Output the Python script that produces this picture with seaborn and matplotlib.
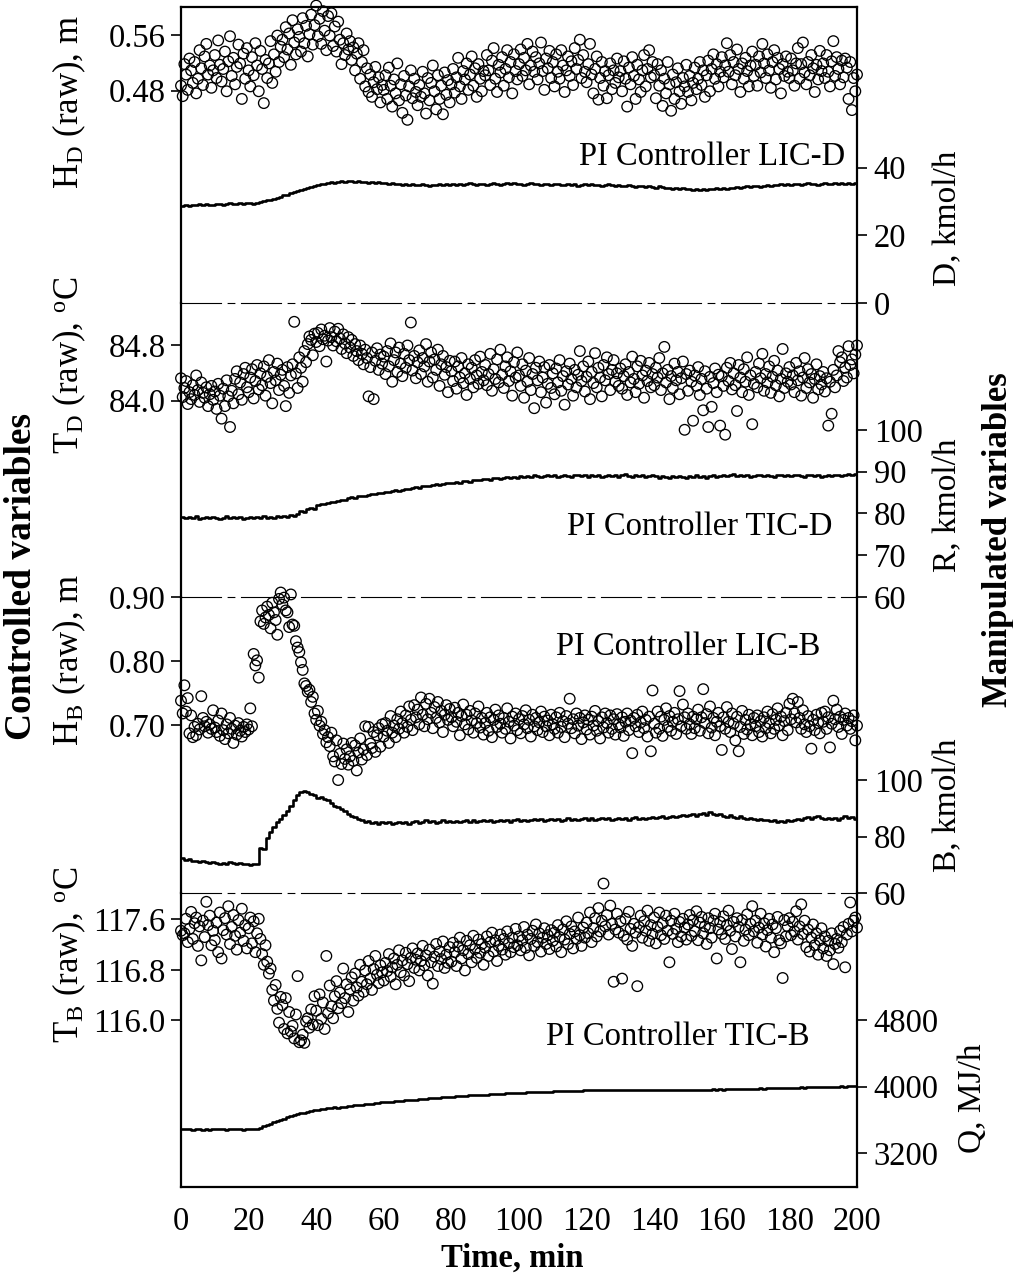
import numpy as np
import matplotlib
matplotlib.use("Agg")
import matplotlib.pyplot as plt
import seaborn as sns

# ---------------- data ----------------
# Controlled variables: sampled every 0.5 min, 0..200 min
HD_raw = [
    0.487, 0.472, 0.518, 0.503, 0.481, 0.526, 0.509, 0.491, 0.521, 0.476, 0.497, 0.538, 0.512, 0.488, 0.529, 0.547, 0.503, 0.516, 0.484, 0.509,
    0.531, 0.498, 0.552, 0.517, 0.493, 0.511, 0.536, 0.479, 0.522, 0.558, 0.501, 0.527, 0.489, 0.514, 0.546, 0.519, 0.468, 0.533, 0.497, 0.541,
    0.509, 0.486, 0.528, 0.502, 0.548, 0.516, 0.479, 0.537, 0.511, 0.462, 0.524, 0.498, 0.519, 0.551, 0.491, 0.532, 0.507, 0.559, 0.521, 0.543,
    0.553, 0.528, 0.571, 0.539, 0.562, 0.517, 0.581, 0.549, 0.532, 0.568, 0.557, 0.536, 0.584, 0.548, 0.573, 0.529, 0.561, 0.589, 0.546, 0.574,
    0.602, 0.558, 0.583, 0.547, 0.594, 0.566, 0.538, 0.587, 0.559, 0.591, 0.544, 0.572, 0.536, 0.579, 0.553, 0.518, 0.548, 0.531, 0.562, 0.539,
    0.551, 0.524, 0.542, 0.509, 0.533, 0.548, 0.497, 0.521, 0.538, 0.486, 0.512, 0.478, 0.503, 0.471, 0.492, 0.514, 0.482, 0.499, 0.463, 0.488,
    0.481, 0.502, 0.468, 0.513, 0.487, 0.457, 0.496, 0.476, 0.519, 0.466, 0.489, 0.448, 0.501, 0.473, 0.438, 0.486, 0.509, 0.469, 0.497, 0.478,
    0.459, 0.488, 0.471, 0.507, 0.476, 0.447, 0.498, 0.466, 0.491, 0.516, 0.479, 0.453, 0.502, 0.468, 0.487, 0.446, 0.506, 0.474, 0.495, 0.463,
    0.489, 0.511, 0.477, 0.499, 0.527, 0.486, 0.468, 0.508, 0.496, 0.519, 0.481, 0.503, 0.529, 0.487, 0.512, 0.471, 0.518, 0.497, 0.479, 0.508,
    0.502, 0.531, 0.509, 0.488, 0.523, 0.541, 0.497, 0.478, 0.517, 0.506, 0.528, 0.487, 0.511, 0.538, 0.499, 0.521, 0.476, 0.532, 0.508, 0.496,
    0.518, 0.539, 0.501, 0.527, 0.509, 0.547, 0.489, 0.516, 0.536, 0.507, 0.528, 0.496, 0.519, 0.549, 0.508, 0.481, 0.526, 0.512, 0.537, 0.498,
    0.521, 0.486, 0.532, 0.507, 0.497, 0.538, 0.516, 0.478, 0.509, 0.529, 0.501, 0.522, 0.488, 0.541, 0.511, 0.524, 0.553, 0.498, 0.531, 0.507,
    0.492, 0.518, 0.547, 0.503, 0.476, 0.511, 0.529, 0.467, 0.498, 0.521, 0.487, 0.508, 0.469, 0.502, 0.519, 0.482, 0.509, 0.491, 0.526, 0.499,
    0.508, 0.479, 0.522, 0.497, 0.457, 0.513, 0.489, 0.528, 0.501, 0.468, 0.517, 0.496, 0.478, 0.509, 0.531, 0.486, 0.511, 0.538, 0.499, 0.521,
    0.502, 0.469, 0.518, 0.487, 0.509, 0.458, 0.497, 0.476, 0.521, 0.489, 0.451, 0.503, 0.468, 0.492, 0.512, 0.479, 0.461, 0.498, 0.486, 0.517,
    0.478, 0.501, 0.466, 0.491, 0.513, 0.482, 0.497, 0.521, 0.488, 0.509, 0.471, 0.502, 0.523, 0.479, 0.511, 0.532, 0.497, 0.518, 0.486, 0.507,
    0.528, 0.499, 0.516, 0.548, 0.507, 0.531, 0.489, 0.521, 0.502, 0.539, 0.511, 0.478, 0.519, 0.497, 0.527, 0.508, 0.486, 0.516, 0.536, 0.501,
    0.517, 0.487, 0.529, 0.506, 0.547, 0.519, 0.498, 0.532, 0.509, 0.484, 0.521, 0.538, 0.496, 0.527, 0.511, 0.476, 0.518, 0.501, 0.529, 0.507,
    0.498, 0.526, 0.509, 0.487, 0.519, 0.541, 0.497, 0.518, 0.549, 0.506, 0.489, 0.521, 0.502, 0.531, 0.512, 0.478, 0.517, 0.496, 0.537, 0.508,
    0.519, 0.498, 0.531, 0.507, 0.486, 0.522, 0.551, 0.501, 0.528, 0.511, 0.489, 0.523, 0.499, 0.526, 0.513, 0.468, 0.521, 0.452, 0.498, 0.479,
    0.503,
]

TD_raw = [
    84.32, 84.05, 84.18, 84.28, 83.95, 84.12, 84.02, 84.22, 84.08, 84.36, 84.15, 83.98, 84.26, 84.11, 84.04, 84.19, 83.92, 84.09, 84.21, 84.01,
    84.13, 83.88, 84.24, 84.07, 83.74, 84.17, 83.92, 84.29, 84.06, 83.62, 84.14, 83.96, 84.31, 84.42, 84.09, 84.26, 84.01, 84.38, 84.47, 84.19,
    84.12, 84.33, 84.45, 84.03, 84.28, 84.51, 84.16, 84.39, 84.22, 84.49, 84.07, 84.34, 84.58, 84.25, 83.96, 84.41, 84.29, 84.53, 84.15, 84.37,
    84.44, 84.21, 83.92, 84.48, 84.11, 84.36, 84.52, 85.13, 84.39, 84.18, 84.62, 84.47, 84.27, 84.71, 84.55, 84.81, 84.92, 84.87, 84.65, 84.96,
    84.84, 84.97, 84.78, 85.02, 84.88, 84.93, 84.56, 84.86, 85.04, 84.91, 84.79, 84.99, 84.85, 85.03, 84.89, 84.74, 84.95, 84.82, 84.68, 84.91,
    84.76, 84.87, 84.64, 84.81, 84.71, 84.58, 84.79, 84.67, 84.52, 84.73, 84.61, 84.06, 84.48, 84.69, 84.02, 84.57, 84.75, 84.44, 84.66, 84.53,
    84.63, 84.38, 84.71, 84.49, 84.82, 84.27, 84.58, 84.69, 84.41, 84.76, 84.53, 84.35, 84.67, 84.47, 84.79, 84.58, 85.12, 84.43, 84.64, 84.32,
    84.55, 84.72, 84.38, 84.61, 84.49, 84.81, 84.27, 84.56, 84.69, 84.33, 84.59, 84.44, 84.73, 84.21, 84.52, 84.64, 84.37, 84.48, 84.12, 84.57,
    84.42, 84.28, 84.56, 84.17, 84.49, 84.33, 84.61, 84.25, 84.39, 84.08, 84.52, 84.31, 84.47, 84.19, 84.58, 84.36, 84.24, 84.63, 84.41, 84.29,
    84.51, 84.22, 84.38, 84.67, 84.14, 84.45, 84.31, 84.59, 84.26, 84.73, 84.37, 84.18, 84.49, 84.62, 84.28, 84.42, 84.07, 84.55, 84.33, 84.69,
    84.36, 84.21, 84.52, 84.04, 84.43, 84.27, 84.61, 84.15, 84.38, 83.89, 84.47, 84.29, 84.56, 84.12, 84.33, 84.48, 83.97, 84.24, 84.51, 84.18,
    84.39, 84.09, 84.46, 84.26, 84.58, 84.14, 84.35, 83.94, 84.42, 84.23, 84.53, 84.31, 84.07, 84.44, 84.19, 84.37, 84.71, 84.28, 84.49, 84.13,
    84.34, 84.56, 84.02, 84.41, 84.25, 84.68, 84.19, 84.47, 84.33, 84.06, 84.51, 84.29, 84.62, 84.38, 84.15, 84.44, 84.58, 84.27, 84.39, 84.21,
    84.46, 84.17, 84.35, 84.52, 84.08, 84.41, 84.26, 84.63, 84.31, 84.12, 84.49, 84.24, 84.57, 84.36, 84.04, 84.43, 84.28, 84.54, 84.19, 84.38,
    84.22, 84.47, 84.33, 84.61, 84.15, 84.39, 84.77, 84.26, 84.44, 84.02, 84.35, 84.18, 84.53, 84.29, 84.41, 84.09, 84.32, 84.56, 83.58, 84.38,
    84.14, 84.43, 84.27, 83.71, 84.36, 84.21, 84.48, 84.08, 84.31, 83.86, 84.42, 84.17, 83.62, 84.34, 83.91, 84.25, 84.46, 84.12, 84.37, 83.64,
    84.35, 84.21, 83.51, 84.47, 84.28, 84.54, 84.16, 84.39, 84.22, 83.85, 84.51, 84.33, 84.12, 84.45, 84.27, 84.62, 84.08, 84.36, 83.66, 84.24,
    84.41, 84.19, 84.53, 84.32, 84.67, 84.14, 84.38, 84.26, 84.49, 84.11, 84.34, 84.57, 84.22, 84.43, 84.06, 84.31, 84.74, 84.18, 84.39, 84.27,
    84.48, 84.23, 84.36, 84.12, 84.54, 84.29, 84.42, 84.07, 84.33, 84.61, 84.18, 84.45, 84.26, 84.38, 84.04, 84.31, 84.52, 84.16, 84.35, 84.23,
    84.41, 84.13, 84.32, 83.64, 84.27, 83.81, 84.44, 84.19, 84.36, 84.71, 84.55, 84.62, 84.28, 84.47, 84.33, 84.78, 84.51, 84.59, 84.39, 84.66,
    84.79,
]

HB_raw = [
    0.738, 0.718, 0.762, 0.721, 0.742, 0.687, 0.715, 0.681, 0.697, 0.684, 0.702, 0.693, 0.745, 0.711, 0.698, 0.705, 0.688, 0.701, 0.694, 0.723,
    0.696, 0.689, 0.707, 0.683, 0.718, 0.692, 0.678, 0.701, 0.687, 0.711, 0.694, 0.672, 0.699, 0.685, 0.703, 0.691, 0.682, 0.697, 0.689, 0.701,
    0.693, 0.726, 0.698, 0.811, 0.793, 0.801, 0.774, 0.862, 0.879, 0.858, 0.868, 0.885, 0.872, 0.851, 0.891, 0.876, 0.864, 0.841, 0.897, 0.907,
    0.888, 0.899, 0.879, 0.876, 0.853, 0.904, 0.857, 0.855, 0.831, 0.821, 0.814, 0.798, 0.786, 0.765, 0.761, 0.752, 0.755, 0.736, 0.744, 0.718,
    0.708, 0.722, 0.699, 0.705, 0.686, 0.692, 0.673, 0.681, 0.667, 0.688, 0.651, 0.643, 0.676, 0.614, 0.655, 0.639, 0.671, 0.647, 0.662, 0.638,
    0.651, 0.672, 0.644, 0.668, 0.629, 0.657, 0.679, 0.646, 0.662, 0.698, 0.653, 0.697, 0.671, 0.664, 0.689, 0.658, 0.684, 0.695, 0.666, 0.701,
    0.682, 0.703, 0.691, 0.672, 0.714, 0.688, 0.699, 0.681, 0.709, 0.694, 0.721, 0.703, 0.688, 0.715, 0.697, 0.729, 0.708, 0.692, 0.731, 0.712,
    0.724, 0.701, 0.743, 0.716, 0.698, 0.733, 0.709, 0.741, 0.719, 0.695, 0.728, 0.711, 0.736, 0.704, 0.722, 0.689, 0.716, 0.731, 0.708, 0.725,
    0.712, 0.698, 0.727, 0.705, 0.719, 0.684, 0.714, 0.732, 0.701, 0.716, 0.693, 0.722, 0.707, 0.688, 0.718, 0.703, 0.729, 0.696, 0.711, 0.685,
    0.703, 0.719, 0.691, 0.712, 0.681, 0.708, 0.724, 0.697, 0.715, 0.702, 0.688, 0.711, 0.694, 0.726, 0.705, 0.679, 0.713, 0.699, 0.718, 0.692,
    0.709, 0.687, 0.714, 0.701, 0.723, 0.695, 0.708, 0.682, 0.716, 0.698, 0.711, 0.692, 0.704, 0.721, 0.689, 0.713, 0.698, 0.707, 0.684, 0.716,
    0.701, 0.694, 0.712, 0.688, 0.719, 0.697, 0.706, 0.681, 0.714, 0.702, 0.741, 0.695, 0.709, 0.687, 0.718, 0.699, 0.711, 0.678, 0.704, 0.715,
    0.693, 0.708, 0.685, 0.713, 0.699, 0.722, 0.691, 0.706, 0.679, 0.712, 0.696, 0.718, 0.703, 0.688, 0.715, 0.694, 0.709, 0.685, 0.717, 0.701,
    0.696, 0.712, 0.683, 0.705, 0.718, 0.692, 0.707, 0.656, 0.711, 0.698, 0.716, 0.689, 0.704, 0.721, 0.695, 0.708, 0.682, 0.713, 0.659, 0.754,
    0.702, 0.688, 0.721, 0.694, 0.713, 0.683, 0.708, 0.726, 0.697, 0.714, 0.691, 0.705, 0.719, 0.686, 0.709, 0.753, 0.698, 0.732, 0.712, 0.694,
    0.718, 0.701, 0.686, 0.713, 0.695, 0.709, 0.724, 0.691, 0.712, 0.756, 0.703, 0.717, 0.687, 0.729, 0.696, 0.711, 0.684, 0.705, 0.719, 0.698,
    0.661, 0.712, 0.694, 0.728, 0.705, 0.689, 0.718, 0.702, 0.676, 0.713, 0.659, 0.697, 0.722, 0.686, 0.708, 0.693, 0.716, 0.701, 0.684, 0.711,
    0.698, 0.715, 0.689, 0.706, 0.682, 0.712, 0.695, 0.721, 0.703, 0.687, 0.717, 0.694, 0.708, 0.726, 0.699, 0.713, 0.684, 0.706, 0.719, 0.692,
    0.733, 0.709, 0.741, 0.718, 0.704, 0.736, 0.711, 0.694, 0.723, 0.701, 0.689, 0.714, 0.698, 0.663, 0.708, 0.692, 0.716, 0.703, 0.687, 0.719,
    0.705, 0.721, 0.694, 0.712, 0.665, 0.702, 0.738, 0.709, 0.724, 0.697, 0.713, 0.686, 0.708, 0.718, 0.699, 0.711, 0.694, 0.706, 0.715, 0.676,
    0.699,
]

TB_raw = [
    117.42, 117.35, 117.38, 117.61, 117.24, 117.45, 117.72, 117.29, 117.54, 117.63, 117.18, 117.49, 116.95, 117.58, 117.32, 117.88, 117.51, 117.66, 117.19, 117.42,
    117.27, 117.55, 117.08, 117.71, 116.98, 117.43, 117.62, 117.36, 117.81, 117.21, 117.48, 117.67, 117.34, 117.12, 117.59, 117.39, 117.77, 117.26, 117.51, 117.14,
    117.46, 117.63, 117.22, 117.57, 117.08, 117.38, 117.61, 117.29, 117.05, 116.88, 117.19, 116.93, 116.74, 116.82, 116.48, 116.31, 116.56, 116.18, 115.96, 116.37,
    116.24, 115.86, 116.35, 115.79, 116.13, 115.82, 115.91, 115.71, 116.09, 116.70, 115.65, 115.68, 115.77, 115.64, 115.98, 116.03, 115.88, 116.17, 115.93, 116.38,
    116.15, 115.92, 116.41, 116.02, 116.28, 115.86, 117.02, 116.11, 116.55, 116.22, 116.03, 116.38, 116.62, 116.19, 116.44, 116.27, 116.82, 116.35, 116.57, 116.13,
    116.49, 116.68, 116.31, 116.74, 116.52, 116.39, 116.88, 116.61, 116.45, 116.79, 116.57, 116.94, 116.66, 116.48, 116.81, 117.02, 116.72, 116.59, 116.87, 116.76,
    116.63, 116.91, 116.78, 117.05, 116.69, 116.84, 116.98, 116.57, 116.88, 117.11, 116.76, 116.95, 116.71, 117.07, 116.89, 116.62, 116.99, 117.14, 116.83, 116.96,
    117.06, 116.79, 116.94, 117.18, 116.87, 117.03, 116.71, 117.12, 116.92, 116.58, 117.01, 117.21, 116.86, 117.09, 116.97, 117.25, 116.83, 117.04, 116.91, 117.16,
    116.93, 117.23, 117.08, 116.86, 117.17, 117.31, 116.98, 117.11, 116.79, 117.26, 117.05, 117.19, 116.92, 117.34, 117.13, 116.99, 117.28, 117.07, 117.21, 116.88,
    117.15, 117.33, 117.02, 117.24, 117.39, 117.09, 117.27, 116.94, 117.18, 117.36, 117.12, 117.29, 117.04, 117.41, 117.22, 117.08, 117.31, 117.16, 117.45, 117.19,
    117.33, 117.11, 117.27, 117.48, 117.15, 117.36, 117.03, 117.29, 117.42, 117.18, 117.52, 117.24, 117.38, 117.09, 117.31, 117.46, 117.21, 117.35, 117.13, 117.43,
    117.26, 117.39, 117.17, 117.51, 117.32, 117.08, 117.44, 117.28, 117.57, 117.21, 117.37, 117.49, 117.14, 117.41, 117.29, 117.63, 117.35, 117.18, 117.47, 117.31,
    117.55, 117.38, 117.71, 117.24, 117.46, 117.62, 117.33, 117.78, 117.41, 117.58, 118.17, 117.49, 117.67, 117.36, 117.82, 117.53, 116.61, 117.44, 117.69, 117.39,
    117.57, 116.66, 117.34, 117.61, 117.28, 117.72, 117.45, 117.18, 117.53, 117.39, 116.54, 117.48, 117.66, 117.31, 117.57, 117.42, 117.74, 117.26, 117.51, 117.37,
    117.63, 117.22, 117.48, 117.71, 117.35, 117.54, 117.29, 117.66, 117.42, 116.92, 117.58, 117.37, 117.69, 117.45, 117.24, 117.56, 117.33, 117.61, 117.47, 117.28,
    117.52, 117.67, 117.34, 117.59, 117.41, 117.73, 117.27, 117.55, 117.64, 117.38, 117.49, 117.21, 117.62, 117.46, 117.31, 117.58, 117.69, 116.98, 117.44, 117.56,
    117.37, 117.65, 117.29, 117.51, 117.74, 117.42, 117.13, 117.56, 117.33, 117.62, 117.48, 116.92, 117.59, 117.26, 117.44, 117.68, 117.35, 117.53, 117.81, 117.41,
    117.58, 117.23, 117.47, 117.69, 117.36, 117.54, 117.17, 117.43, 117.61, 117.31, 117.52, 117.08, 117.46, 117.64, 117.27, 117.22, 116.67, 117.59, 117.33, 117.49,
    117.62, 117.35, 117.56, 117.41, 117.73, 117.28, 117.49, 117.84, 117.37, 117.58, 117.16, 117.44, 117.09, 117.31, 117.52, 117.19, 117.38, 117.04, 117.27, 117.46,
    117.14, 117.33, 117.02, 117.26, 117.11, 117.38, 116.89, 117.21, 117.29, 117.15, 117.42, 117.24, 117.48, 116.84, 117.36, 117.53, 117.87, 117.41, 117.58, 117.63,
    117.47,
]

# Manipulated variables: sampled every 1 min, 0..200 min
D_flow = [
    28.6, 28.9, 28.7, 29.0, 28.8, 29.1, 28.9, 29.2, 29.0, 28.8, 29.1, 29.3, 29.0, 29.2, 29.4, 29.1, 29.3, 29.5, 29.2, 29.4,
    29.6, 29.3, 29.5, 29.8, 30.1, 30.4, 30.3, 30.8, 31.1, 31.4, 31.8, 32.0, 32.5, 32.7, 33.1, 33.4, 33.8, 33.9, 34.3, 34.5,
    34.8, 35.1, 35.0, 35.4, 35.6, 35.5, 35.8, 36.0, 35.7, 35.9, 36.1, 35.8, 35.9, 35.6, 35.8, 35.5, 35.7, 35.4, 35.6, 35.3,
    35.4, 35.1, 35.3, 35.0, 35.2, 34.9, 35.1, 34.8, 35.0, 34.7, 34.9, 35.1, 34.8, 34.6, 34.9, 34.7, 35.0, 34.8, 35.1, 34.9,
    35.2, 34.9, 35.1, 34.8, 35.0, 35.3, 35.1, 34.9, 35.2, 35.0, 34.8, 35.1, 35.3, 35.0, 34.9, 35.2, 35.4, 35.1, 35.3, 35.0,
    35.2, 34.9, 35.1, 35.3, 35.0, 35.2, 34.8, 35.0, 35.1, 34.9, 35.2, 35.0, 34.7, 34.9, 35.1, 34.8, 35.0, 34.6, 34.8, 35.0,
    34.8, 35.0, 34.7, 34.9, 34.6, 34.8, 35.0, 34.7, 34.5, 34.8, 34.6, 34.4, 34.7, 34.5, 34.3, 34.6, 34.4, 34.2, 34.5, 34.3,
    34.1, 34.4, 34.2, 33.9, 34.1, 33.8, 34.0, 33.7, 33.9, 33.6, 33.8, 33.5, 33.7, 33.4, 33.6, 33.5, 33.8, 33.6, 33.9, 33.7,
    34.0, 33.8, 34.1, 33.9, 34.2, 34.0, 34.3, 34.5, 34.2, 34.4, 34.6, 34.3, 34.5, 34.8, 34.6, 34.9, 34.7, 35.0, 34.8, 35.1,
    34.9, 35.2, 35.0, 34.8, 35.1, 35.3, 35.0, 35.2, 34.9, 35.1, 35.4, 35.2, 35.0, 35.3, 35.1, 35.5, 35.2, 35.4, 35.1, 35.3,
    35.0,
]

R_flow = [
    79.1, 78.8, 79.2, 78.9, 79.3, 78.7, 79.0, 79.2, 78.8, 79.1, 78.9, 78.6, 79.0, 79.3, 78.8, 79.1, 78.9, 79.2, 78.7, 79.0,
    79.1, 78.8, 79.2, 78.9, 79.3, 79.0, 79.2, 78.9, 79.3, 79.1, 79.4, 79.2, 79.6, 79.4, 79.8, 80.6, 80.4, 81.0, 81.3, 81.1,
    82.0, 82.3, 82.2, 82.6, 82.8, 82.7, 83.1, 83.3, 83.2, 83.6, 83.9, 83.8, 84.1, 84.3, 84.2, 84.5, 84.7, 84.6, 84.9, 85.0,
    85.2, 85.1, 85.4, 85.6, 85.5, 85.7, 85.9, 85.8, 86.1, 86.3, 86.2, 86.5, 86.6, 86.5, 86.8, 87.0, 86.9, 87.1, 87.3, 87.2,
    87.4, 87.5, 87.4, 87.7, 87.8, 87.6, 87.9, 88.1, 87.9, 88.2, 88.3, 88.1, 88.4, 88.5, 88.3, 88.6, 88.7, 88.5, 88.8, 88.6,
    88.9, 88.7, 89.0, 88.8, 89.1, 88.9, 88.7, 89.0, 89.2, 88.9, 89.1, 88.8, 89.0, 89.3, 89.0, 88.8, 89.1, 89.2, 88.9, 89.1,
    88.8, 89.1, 88.9, 89.2, 88.7, 89.0, 89.3, 88.9, 89.1, 88.8, 89.2, 89.4, 89.0, 88.7, 89.1, 88.9, 89.2, 88.8, 89.0, 89.3,
    88.9, 88.6, 89.0, 88.8, 88.5, 88.9, 88.7, 89.0, 88.8, 88.4, 88.9, 88.7, 89.1, 88.8, 89.0, 88.6, 88.9, 89.2, 88.8, 89.0,
    89.2, 88.9, 89.1, 89.4, 89.0, 89.2, 88.9, 89.1, 88.8, 89.0, 89.3, 89.1, 88.9, 89.2, 89.0, 88.8, 89.1, 89.3, 89.0, 89.2,
    88.9, 89.1, 89.3, 89.0, 88.8, 89.1, 89.2, 88.9, 89.1, 88.8, 89.0, 89.2, 88.9, 89.1, 89.3, 89.0, 89.2, 89.4, 89.1, 89.5,
    89.6,
]

B_flow = [
    72.4, 71.6, 71.9, 71.3, 71.5, 70.9, 71.2, 70.8, 70.7, 71.0, 70.6, 70.3, 70.7, 70.4, 70.8, 70.5, 70.2, 70.6, 70.1, 70.4,
    70.0, 70.3, 70.1, 76.0, 75.7, 79.4, 81.6, 83.2, 85.0, 86.2, 87.6, 88.9, 90.8, 92.9, 94.6, 95.7, 96.1, 95.6, 95.2, 94.6,
    93.8, 94.1, 93.2, 92.8, 91.9, 90.9, 90.3, 89.6, 89.0, 88.1, 87.3, 86.9, 86.2, 85.8, 85.3, 85.6, 84.9, 85.2, 84.6, 85.0,
    84.7, 85.1, 84.5, 84.9, 85.3, 84.8, 85.2, 84.6, 85.0, 85.4, 84.9, 85.3, 85.7, 85.1, 85.5, 84.9, 85.3, 85.8, 85.2, 85.6,
    85.2, 85.6, 85.0, 85.4, 85.9, 85.3, 85.7, 85.1, 85.5, 85.9, 85.4, 85.8, 85.2, 85.6, 86.0, 85.5, 85.9, 85.3, 85.7, 86.1,
    85.6, 86.0, 85.4, 85.8, 86.2, 85.7, 86.1, 85.5, 85.9, 86.3, 85.8, 86.2, 85.6, 86.0, 86.4, 85.9, 86.3, 85.7, 86.1, 86.5,
    86.0, 86.4, 85.8, 86.2, 86.6, 86.1, 86.5, 85.9, 86.3, 86.7, 86.2, 86.6, 86.0, 86.4, 86.8, 86.3, 86.7, 86.1, 86.5, 86.9,
    86.4, 86.8, 87.2, 86.6, 87.0, 87.4, 86.9, 87.3, 87.7, 87.1, 87.5, 87.9, 87.3, 87.8, 88.3, 87.7, 88.6, 88.1, 87.5, 87.9,
    87.4, 87.0, 87.5, 86.9, 86.6, 87.1, 86.5, 86.2, 86.7, 86.1, 85.8, 86.3, 85.7, 85.9, 85.4, 85.8, 85.3, 85.6, 85.2, 85.7,
    85.4, 85.9, 86.3, 85.8, 86.4, 86.9, 86.3, 86.8, 87.2, 86.6, 86.2, 86.7, 86.1, 86.5, 86.0, 86.6, 87.1, 86.5, 86.9, 86.3,
    85.8,
]

Q_duty = [
    3495, 3488, 3492, 3485, 3490, 3497, 3486, 3491, 3483, 3489, 3494, 3487, 3492, 3485, 3490, 3496, 3488, 3493, 3486, 3491,
    3489, 3494, 3498, 3510, 3523, 3541, 3556, 3572, 3589, 3603, 3618, 3631, 3646, 3657, 3669, 3681, 3690, 3701, 3708, 3716,
    3721, 3729, 3733, 3740, 3744, 3751, 3749, 3758, 3762, 3767, 3771, 3775, 3779, 3786, 3789, 3793, 3797, 3802, 3805, 3811,
    3814, 3818, 3821, 3826, 3829, 3833, 3836, 3840, 3843, 3846, 3849, 3853, 3857, 3859, 3863, 3866, 3869, 3872, 3874, 3878,
    3881, 3884, 3886, 3889, 3892, 3895, 3897, 3899, 3902, 3904, 3906, 3909, 3911, 3913, 3915, 3917, 3920, 3922, 3923, 3925,
    3927, 3929, 3931, 3933, 3934, 3936, 3938, 3939, 3941, 3942, 3944, 3945, 3947, 3948, 3949, 3951, 3952, 3953, 3954, 3956,
    3955, 3958, 3956, 3960, 3957, 3961, 3959, 3962, 3958, 3963, 3960, 3957, 3961, 3959, 3963, 3960, 3958, 3962, 3959, 3963,
    3961, 3958, 3962, 3960, 3957, 3961, 3964, 3960, 3963, 3959, 3962, 3965, 3961, 3964, 3962, 3966, 3963, 3967, 3965, 3968,
    3966, 3970, 3968, 3972, 3969, 3974, 3971, 3976, 3973, 3978, 3975, 3980, 3977, 3982, 3979, 3984, 3981, 3986, 3983, 3988,
    3985, 3990, 3987, 3992, 3989, 3994, 3991, 3996, 3993, 3998, 3995, 4000, 3997, 4002, 3999, 4004, 4001, 4006, 4003, 4005,
    4003,
]

left_labels = [r"H$_{\mathrm{D}}$ (raw), m", r"T$_{\mathrm{D}}$ (raw), $^{\mathrm{o}}$C",
               r"H$_{\mathrm{B}}$ (raw), m", r"T$_{\mathrm{B}}$ (raw), $^{\mathrm{o}}$C"]
right_labels = ["D, kmol/h", "R, kmol/h", "B, kmol/h", "Q, MJ/h"]
controller_names = ["PI Controller LIC-D", "PI Controller TIC-D", "PI Controller LIC-B", "PI Controller TIC-B"]
left_ticks = [[0.48, 0.56], [84.0, 84.8], [0.70, 0.80, 0.90], [116.0, 116.8, 117.6]]
left_ticklabels = [["0.48", "0.56"], ["84.0", "84.8"], ["0.70", "0.80", "0.90"], ["116.0", "116.8", "117.6"]]
right_ticks = [[0, 20, 40], [60, 70, 80, 90, 100], [60, 80, 100], [3200, 4000, 4800]]
x_ticks = [0, 20, 40, 60, 80, 100, 120, 140, 160, 180, 200]

# ---------------- styling ----------------
sns.set_theme(style="white")
plt.rcParams['font.family'] = ['Liberation Serif', 'DejaVu Serif']
plt.rcParams['mathtext.fontset'] = 'custom'
plt.rcParams['mathtext.rm'] = 'Liberation Serif'
plt.rcParams['mathtext.it'] = 'Liberation Serif:italic'
plt.rcParams['mathtext.bf'] = 'Liberation Serif:bold'

W, H = 1013, 1275
fig = plt.figure(figsize=(W / 100, H / 100), dpi=100)
fig.patch.set_facecolor('white')

edges = [7, 303, 597, 893, 1187]
gs = fig.add_gridspec(4, 1, left=181 / W, right=857 / W, top=1 - edges[0] / H, bottom=1 - edges[-1] / H,
                      hspace=0, height_ratios=[edges[i + 1] - edges[i] for i in range(4)])

left_lims = [(0.175, 0.600), (81.18, 85.40), (0.4375, 0.90), (113.35, 118.02)]
right_lims = [(0, 87.4), (60, 130.4), (60, 164.8), (2796, 6324)]

cvs = [HD_raw, TD_raw, HB_raw, TB_raw]
mvs = [D_flow, R_flow, B_flow, Q_duty]

FS = 23.5
FS_LAB_L = 25
FS_LAB_R = 24
SPINE_W = 1.6
dashdot = (0, (36, 6, 6, 6))

for i in range(4):
    ax = fig.add_subplot(gs[i])
    ax2 = ax.twinx()
    ax.set_facecolor('none')

    cv = np.asarray(cvs[i])
    mv = np.asarray(mvs[i])
    t_cv = np.arange(len(cv)) * 0.5
    t_mv = np.arange(len(mv)) * 1.0

    sns.scatterplot(x=t_cv, y=cv, ax=ax, s=58, color='black', linewidth=0.95, legend=False)
    coll = ax.collections[-1]
    coll.set_facecolor('none')
    coll.set_edgecolor('black')
    coll.set_linewidth(0.95)
    coll.set_clip_on(False)

    sns.lineplot(x=t_mv, y=mv, ax=ax2, color='black', linewidth=1.9,
                 drawstyle='steps-post', estimator=None, legend=False)

    ax.set_xlim(0, 200)
    ax2.set_xlim(0, 200)
    ax.set_ylim(*left_lims[i])
    ax2.set_ylim(*right_lims[i])

    ax.set_yticks(left_ticks[i])
    ax.set_yticklabels(left_ticklabels[i])
    ax2.set_yticks(right_ticks[i])
    ax2.set_yticklabels([str(v) for v in right_ticks[i]])
    ax.tick_params(axis='y', direction='out', length=7, width=1.2, labelsize=FS, pad=4, colors='black')
    ax2.tick_params(axis='y', direction='out', length=7, width=1.2, labelsize=FS, pad=5, colors='black')

    ax.set_xlabel('')
    ax.set_ylabel('')
    ax2.set_xlabel('')
    ax2.set_ylabel('')

    if i == 3:
        ax.set_xticks(x_ticks)
        ax.set_xticklabels([str(v) for v in x_ticks])
        ax.tick_params(axis='x', direction='out', length=7, width=1.2, labelsize=FS, pad=7, colors='black')
    else:
        ax.set_xticks([])
    ax2.tick_params(axis='x', length=0)

    # spines
    for s in ['top', 'bottom', 'left']:
        ax2.spines[s].set_visible(False)
    ax2.spines['right'].set_linewidth(SPINE_W)
    ax2.spines['right'].set_color('black')
    ax.spines['right'].set_visible(False)
    ax.spines['left'].set_linewidth(SPINE_W)
    ax.spines['left'].set_color('black')
    if i == 0:
        ax.spines['top'].set_linewidth(SPINE_W)
        ax.spines['top'].set_color('black')
    else:
        ax.spines['top'].set_visible(False)
    if i == 3:
        ax.spines['bottom'].set_linewidth(SPINE_W)
        ax.spines['bottom'].set_color('black')
    else:
        ax.spines['bottom'].set_linewidth(0.8)
        ax.spines['bottom'].set_color('black')
        ax.spines['bottom'].set_linestyle(dashdot)

# ---------------- texts ----------------
def fx(px):
    return px / W

def fy(py):
    return 1 - py / H

left_label_y = [102, 365, 660, 955]
right_label_pos = [(948, 218), (948, 505), (948, 805), (973, 1098)]
ctrl_pos = [(845, 165), (832, 535), (820, 655), (810, 1045)]

for i in range(4):
    fig.text(fx(69), fy(left_label_y[i]), left_labels[i], rotation=90, ha='center', va='center',
             fontsize=FS_LAB_L, color='black')
    x, y = right_label_pos[i]
    fig.text(fx(x), fy(y), right_labels[i], rotation=90, ha='center', va='center',
             fontsize=FS_LAB_R, color='black')
    x, y = ctrl_pos[i]
    fig.text(fx(x), fy(y), controller_names[i], ha='right', va='baseline', fontsize=FS, color='black')

fig.text(fx(22), fy(576), "Controlled variables", rotation=90, ha='center', va='center',
         fontsize=27, fontweight='bold', color='black')
fig.text(fx(998), fy(540), "Manipulated variables", rotation=90, ha='center', va='center',
         fontsize=25, fontweight='bold', color='black')
fig.text(fx(512), fy(1258), "Time, min", ha='center', va='center', fontsize=23.5, fontweight='bold', color='black')

fig.savefig("out.png", dpi=100, facecolor='white')
